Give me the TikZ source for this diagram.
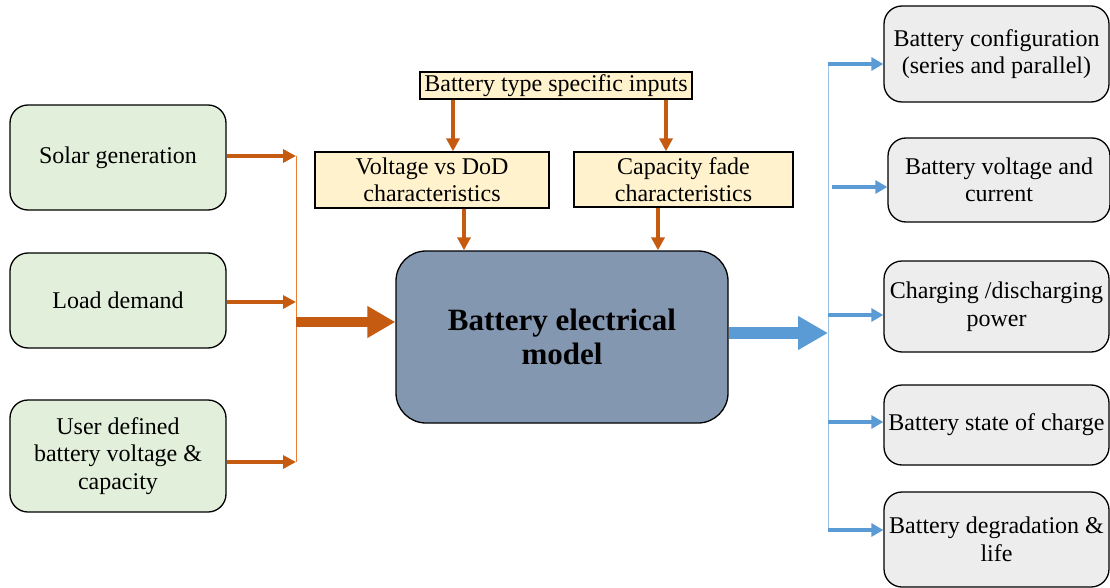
\documentclass[tikz,border=0pt]{standalone}
\usepackage{fontspec}
\setmainfont{Liberation Serif}
\usetikzlibrary{arrows.meta}
\definecolor{ingreen}{HTML}{E2EFDA}
\definecolor{specyellow}{HTML}{FFF2CC}
\definecolor{modelblue}{HTML}{8497B0}
\definecolor{outgrey}{HTML}{EDEDED}
\definecolor{flowred}{HTML}{C55A11}
\definecolor{flowblue}{HTML}{5B9BD5}
\definecolor{thinred}{HTML}{ED7D31}
\definecolor{thinblue}{HTML}{9DC3E6}
\begin{document}
\begin{tikzpicture}
[x=1pt,y=-1pt,font=\fontsize{24}{27.5}\selectfont,
inbox/.style = {draw, line width=1.3pt, rounded corners=18pt, fill=ingreen, align=center, minimum width=216pt, inner sep=0pt},
specbox/.style = {draw, line width=1.3pt, fill=specyellow, align=center, inner sep=0pt},
outbox/.style = {draw, line width=1.3pt, rounded corners=18pt, fill=outgrey, align=center, inner sep=0pt},
redarrow/.style = {draw=flowred, line width=3.5pt, -{Triangle[length=13pt,width=13pt]}},
bluearrow/.style = {draw=flowblue, line width=4pt, -{Triangle[length=12pt,width=13pt]}},]
\useasboundingbox (0,0) rectangle (1110,588);
% inputs
\node (solar) at (118,157.5)[inbox, minimum height=105pt] {Solar generation};
\node (load) at (118,300.5)[inbox, minimum height=95pt] {Load demand};
\node (user) at (118,456)[inbox, minimum height=112pt] {User defined\\battery voltage \&\\capacity};
% battery type data
\node (spec) at (556,85.5)[specbox, minimum width=272pt, minimum height=27pt] {Battery type specific inputs};
\node (vdod) at (432,180)[specbox, minimum width=234pt, minimum height=56pt] {Voltage vs DoD\\characteristics};
\node (fade) at (683.5,179.5)[specbox, minimum width=219pt, minimum height=55pt] {Capacity fade\\characteristics};
% model
\node (model) at (562,337)[draw, line width=1.3pt, rounded corners=30pt, fill=modelblue, align=center, minimum width=332pt, minimum height=172pt, font=\fontsize{31}{34}\selectfont\bfseries] {Battery electrical\\model};
% outputs
\node (conf) at (996.5,54)[outbox, minimum width=225pt, minimum height=96pt] {Battery configuration\\(series and parallel)};
\node (volt) at (999,180)[outbox, minimum width=222pt, minimum height=84pt] {Battery voltage and\\current};
\node (power) at (996.5,306.5)[outbox, minimum width=225pt, minimum height=91pt] {Charging /discharging\\power};
\node (soc) at (996.5,425)[outbox, minimum width=225pt, minimum height=80pt] {Battery state of charge};
\node (life) at (996.5,539.5)[outbox, minimum width=225pt, minimum height=95pt] {Battery degradation \&\\life};

\coordinate (js) at (296,156);
\coordinate (jl) at (296,302);
\coordinate (ju) at (296,462);
\coordinate (jin) at (296,322);
\coordinate (jout) at (828,333);
\coordinate (jtop) at (828,64);
\coordinate (jbot) at (828,530);

\draw[thinred, line width=1pt] (js)--(ju);
\draw[redarrow] (solar.east |- js)--(js);
\draw[redarrow] (load.east |- jl)--(jl);
\draw[redarrow] (user.east |- ju)--(ju);
\draw[draw=flowred, line width=10pt, -{Triangle[length=28pt,width=30pt]}] (jin)--(jin -| model.west);

\draw[redarrow] (spec.south -| 453,0)--(vdod.north -| 453,0);
\draw[redarrow] (spec.south -| 666,0)--(fade.north -| 666,0);
\draw[redarrow] (vdod.south -| 464,0)--(model.north -| 464,0);
\draw[redarrow] (fade.south -| 658,0)--(model.north -| 658,0);

\draw[draw=flowblue, line width=12pt, -{Triangle[length=30pt,width=32pt]}] (model.east |- jout)--(jout);
\draw[thinblue, line width=1pt] (jtop)--(jbot);
\draw[bluearrow] (jtop)--(jtop -| conf.west);
\draw[bluearrow] (832,187)--(volt.west |- 0,187);
\draw[bluearrow] (828,315)--(power.west |- 0,315);
\draw[bluearrow] (828,422)--(soc.west |- 0,422);
\draw[bluearrow] (jbot)--(jbot -| life.west);

\end{tikzpicture}
\end{document}
